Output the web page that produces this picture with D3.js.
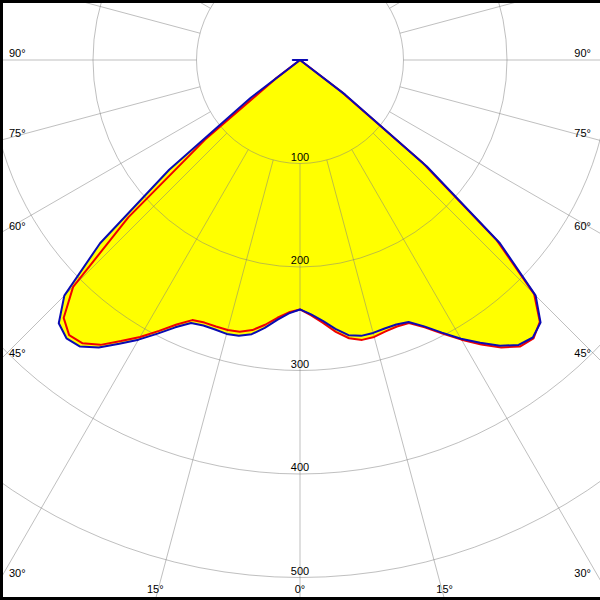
<!DOCTYPE html>
<html>
<head>
<meta charset="utf-8">
<title>Polar intensity diagram</title>
<script src="https://cdn.jsdelivr.net/npm/d3@7"></script>
<style>
  body { margin: 0; background: #fff; }
  svg { display: block; }
  text { font-family: "Liberation Sans", Arial, sans-serif; font-size: 11px; }
</style>
</head>
<body>
<svg id="chart" width="600" height="600"></svg>
<script>
// gamma angles (0 = straight down), then intensities per half-plane
const gammas = [0, 2.5, 5, 7.5, 10, 12.5, 15, 17.5, 20, 22.5, 25, 27.5, 30, 32.5, 35, 37.5, 40, 42.5, 45, 47.5, 50, 52.5, 55, 85, 90, 95, 180];
const blueLeft  = [241, 245, 252, 261, 269, 273, 274, 273, 273, 275, 285, 298, 312, 325, 339, 349, 351, 345, 322, 262, 165, 60, 0, 0, 7, 0, 0];
const redLeft   = [241, 244, 250, 258, 265, 269, 270, 270, 270, 272, 282, 295, 309, 322, 336, 345, 347, 338, 310, 225, 120, 30, 0, 0, 0, 0, 0];
const blueRight = [241, 246, 253, 262, 270, 273, 273, 272, 272, 274, 284, 297, 311, 324, 337, 347, 350, 344, 322, 262, 160, 55, 0, 0, 7, 0, 0];
const redRight  = [241, 247, 255, 265, 273, 277, 277, 275, 274, 275, 285, 298, 312, 326, 339, 349, 351, 343, 320, 258, 155, 50, 0, 0, 0, 0, 0];

const rings = [100, 200, 300, 400, 500, 600];
const ringLabels = ["100", "200", "300", "400", "500"];
const spokeStep = 15;

const W = 600, H = 600;
const cx = 300, cy = 60;

const svg = d3.select("#chart");
const rScale = d3.scaleLinear().domain([0, 100]).range([0, 103.5]);
const rad = d => d * Math.PI / 180;

const g = svg.append("g").attr("transform", "translate(" + cx + "," + cy + ")");

// build full curve: left half from 180 down to 0, then right half 0 -> 180
function curvePoints(left, right) {
  var pts = [];
  for (var i = gammas.length - 1; i >= 0; i--) pts.push([Math.PI + rad(gammas[i]), left[i]]);
  for (var j = 1; j < gammas.length; j++) pts.push([Math.PI - rad(gammas[j]), right[j]]);
  return pts;
}

const radial = d3.lineRadial()
  .angle(d => d[0])
  .radius(d => rScale(d[1]));

const bluePts = curvePoints(blueLeft, blueRight);
const redPts = curvePoints(redLeft, redRight);

// yellow fill
g.append("path").attr("d", radial(bluePts) + "Z").attr("fill", "#ffff00");
g.append("path").attr("d", radial(redPts) + "Z").attr("fill", "#ffff00");

// grid rings
g.selectAll("circle.ring")
  .data(rings)
  .enter().append("circle")
  .attr("class", "ring")
  .attr("r", d => rScale(d))
  .attr("fill", "none")
  .attr("stroke", "#808080")
  .attr("stroke-opacity", 0.5)
  .attr("stroke-width", 1);

// spokes from the first ring outward
const spokes = d3.range(0, 360, spokeStep);
g.selectAll("path.spoke")
  .data(spokes)
  .enter().append("path")
  .attr("class", "spoke")
  .attr("d", a => radial([[rad(a), rings[0]], [rad(a), 700]]))
  .attr("fill", "none")
  .attr("stroke", "#808080")
  .attr("stroke-opacity", 0.5)
  .attr("stroke-width", 1);

// curves
g.append("path").attr("d", radial(redPts)).attr("fill", "none")
  .attr("stroke", "#f00000").attr("stroke-width", 2).attr("stroke-linejoin", "round");
g.append("path").attr("d", radial(bluePts)).attr("fill", "none")
  .attr("stroke", "#0a0ab4").attr("stroke-width", 2).attr("stroke-linejoin", "round");

// ring labels
g.selectAll("text.rl")
  .data(ringLabels)
  .enter().append("text")
  .attr("class", "rl")
  .attr("x", 0)
  .attr("y", d => rScale(+d) - 3)
  .attr("text-anchor", "middle")
  .attr("fill", "#000")
  .text(d => d);

// angle labels where spokes leave the frame
const angleLabels = [0, 15, 30, 45, 60, 75, 90];
angleLabels.forEach(function(gm) {
  [-1, 1].forEach(function(side) {
    if (gm === 0 && side === 1) return;
    var dx = Math.sin(rad(gm)), dy = Math.cos(rad(gm));
    var yEdge = dx > 0 ? cy + (cx / dx) * dy : Infinity;
    var t = svg.append("text").attr("fill", "#000").text(gm + "°");
    if (yEdge < H - 12) {
      t.attr("y", yEdge - 3)
        .attr("x", side < 0 ? 9 : W - 9)
        .attr("text-anchor", side < 0 ? "start" : "end");
    } else {
      var xb = cx + side * ((H - cy) / dy) * dx;
      t.attr("x", xb).attr("y", H - 7).attr("text-anchor", "middle");
    }
  });
});

// frame
svg.append("rect").attr("x", 0).attr("y", 0).attr("width", 3).attr("height", H).attr("fill", "#000");
svg.append("rect").attr("x", 0).attr("y", 0).attr("width", W).attr("height", 3).attr("fill", "#000");
svg.append("rect").attr("x", 0).attr("y", H - 3).attr("width", W).attr("height", 3).attr("fill", "#000");
</script>
</body>
</html>
